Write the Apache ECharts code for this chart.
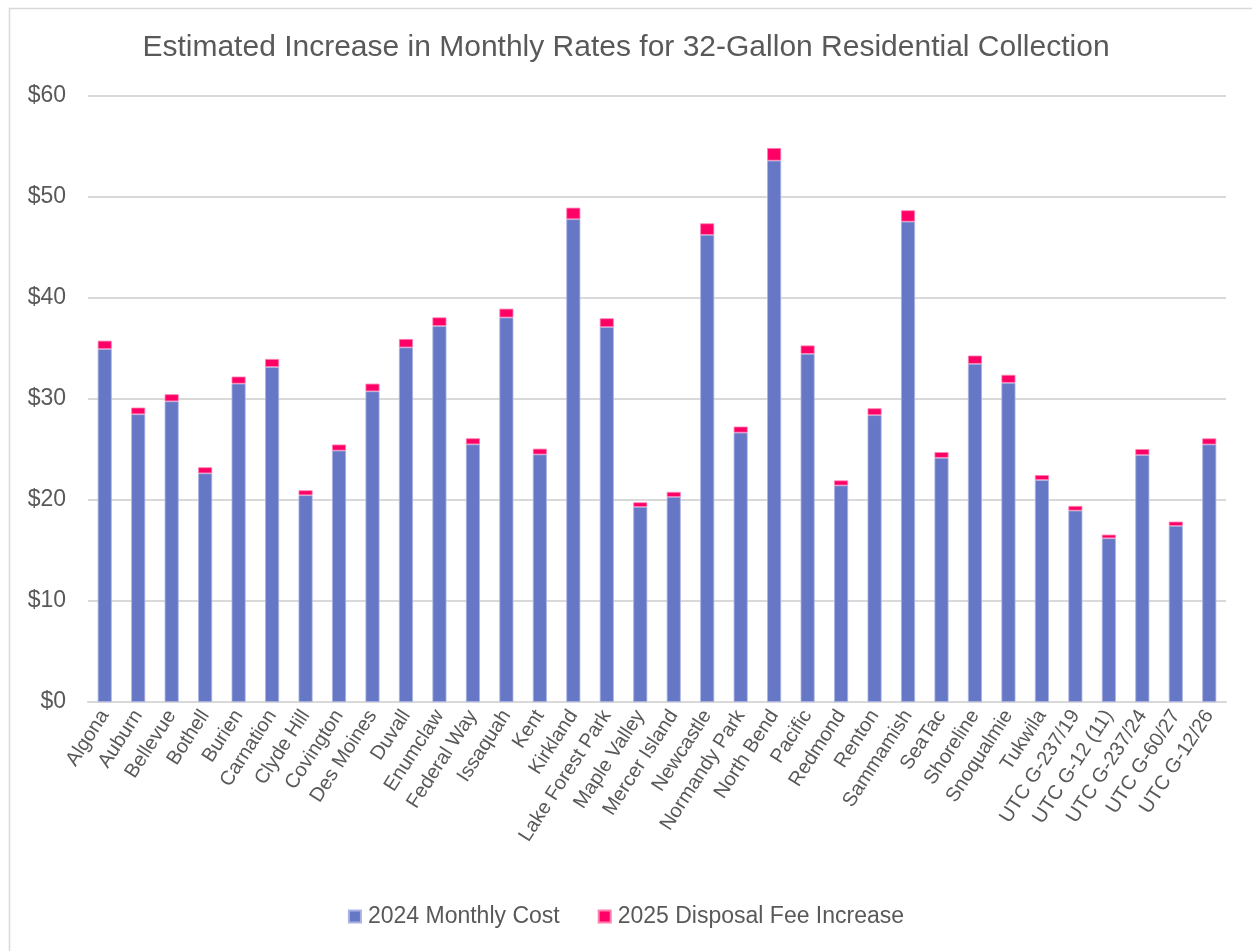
<!DOCTYPE html>
<html>
<head>
<meta charset="utf-8">
<script src="https://cdn.jsdelivr.net/npm/echarts@6/dist/echarts.min.js"></script>
<style>
html,body{margin:0;padding:0;background:#fff;}
#chart{width:1252px;height:951px;}
</style>
</head>
<body>
<div id="chart"></div>
<script>
const categories = ["Algona","Auburn","Bellevue","Bothell","Burien","Carnation","Clyde Hill","Covington","Des Moines","Duvall","Enumclaw","Federal Way","Issaquah","Kent","Kirkland","Lake Forest Park","Maple Valley","Mercer Island","Newcastle","Normandy Park","North Bend","Pacific","Redmond","Renton","Sammamish","SeaTac","Shoreline","Snoqualmie","Tukwila","UTC G-237/19","UTC G-12 (11)","UTC G-237/24","UTC G-60/27","UTC G-12/26"];
const cost2024 = [34.95,28.49,29.77,22.64,31.52,33.17,20.47,24.89,30.76,35.11,37.23,25.51,38.07,24.51,47.80,37.12,19.32,20.30,46.25,26.67,53.60,34.47,21.44,28.40,47.56,24.18,33.48,31.60,21.98,18.95,16.21,24.45,17.43,25.50];
const increase2025 = [0.82,0.66,0.70,0.60,0.70,0.79,0.49,0.60,0.76,0.83,0.85,0.60,0.87,0.57,1.14,0.87,0.45,0.50,1.14,0.60,1.25,0.83,0.50,0.68,1.12,0.56,0.82,0.79,0.49,0.46,0.36,0.59,0.43,0.60];
const seriesNames = ["2024 Monthly Cost","2025 Disposal Fee Increase"];
const yTicks = [0,10,20,30,40,50,60];

const FONT = "Liberation Sans";
const TXT = "#595959";
const chart = echarts.init(document.getElementById('chart'));
chart.setOption({
  animation: false,
  backgroundColor: '#fff',
  graphic: [{
    type: 'rect', left: 7, top: 6,
    shape: { x: 0, y: 0, width: 1260, height: 960 },
    style: { fill: 'none', stroke: '#d9d9d9', lineWidth: 1.5 },
    silent: true
  }],
  title: {
    text: 'Estimated Increase in Monthly Rates for 32-Gallon Residential Collection',
    left: 'center', top: 28,
    textStyle: { fontFamily: FONT, fontSize: 30, fontWeight: 'normal', color: TXT }
  },
  legend: {
    bottom: 18, left: 'center',
    itemWidth: 12, itemHeight: 12, itemGap: 38,
    icon: 'rect',
    textStyle: { fontFamily: FONT, fontSize: 23, color: TXT, padding: [0,0,0,2] },
    data: seriesNames
  },
  grid: { left: 88, right: 26, top: 96, bottom: 249, containLabel: false },
  xAxis: {
    type: 'category', data: categories,
    axisLine: { lineStyle: { color: '#d9d9d9', width: 2 } },
    axisTick: { show: false },
    axisLabel: { rotate: 57, interval: 0, fontFamily: FONT, fontSize: 20, color: TXT, margin: 10 }
  },
  yAxis: {
    type: 'value', min: yTicks[0], max: yTicks[yTicks.length-1], interval: 10,
    axisLine: { show: false }, axisTick: { show: false },
    splitLine: { lineStyle: { color: '#d9d9d9', width: 2 } },
    axisLabel: { fontFamily: FONT, fontSize: 23, color: TXT, margin: 22, formatter: v => '$' + v }
  },
  series: [
    { name: seriesNames[0], type: 'bar', stack: 'a', data: cost2024, barWidth: 14,
      itemStyle: { color: '#6677C6', borderColor: '#a9b3e3', borderWidth: 0.8 } },
    { name: seriesNames[1], type: 'bar', stack: 'a', data: increase2025, barWidth: 14,
      itemStyle: { color: '#FF0066', borderColor: '#ff80b0', borderWidth: 0.8 } }
  ]
});
</script>
</body>
</html>
